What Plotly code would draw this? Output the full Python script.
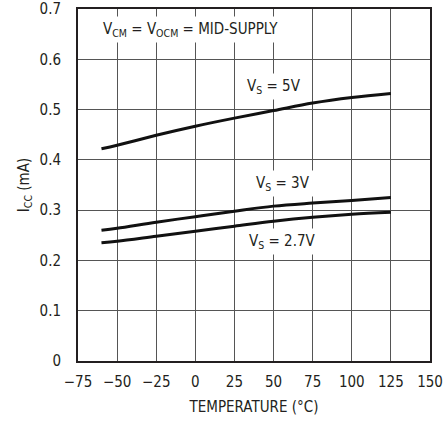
import plotly.graph_objects as go

temps = [-60, -50, -25, 0, 25, 50, 75, 100, 125]
icc_5v = [0.422, 0.429, 0.449, 0.467, 0.483, 0.498, 0.513, 0.524, 0.532]
icc_3v = [0.260, 0.264, 0.276, 0.287, 0.298, 0.308, 0.314, 0.319, 0.325]
icc_27v = [0.235, 0.238, 0.248, 0.258, 0.268, 0.278, 0.286, 0.292, 0.296]

x_ticks = [-75, -50, -25, 0, 25, 50, 75, 100, 125, 150]
x_ticktext = ["\u221275", "\u221250", "\u221225", "0", "25", "50", "75", "100", "125", "150"]
y_ticks = [0, 0.1, 0.2, 0.3, 0.4, 0.5, 0.6, 0.7]
y_ticktext = ["0", "0.1", "0.2", "0.3", "0.4", "0.5", "0.6", "0.7"]

FONT = "DejaVu Sans Condensed, Liberation Sans Narrow, sans-serif"
TXT = "#231f20"

fig = go.Figure()
for ys in (icc_5v, icc_3v, icc_27v):
    fig.add_trace(go.Scatter(x=temps, y=ys, mode="lines",
                             line=dict(color="#111111", width=3, shape="spline"),
                             showlegend=False, hoverinfo="skip"))

labels = [
    (-3.4, 0.659, "V<sub>CM</sub> = V<sub>OCM</sub> = MID-SUPPLY"),
    (50.3, 0.546, "V<sub>S</sub> = 5V"),
    (56, 0.353, "V<sub>S</sub> = 3V"),
    (56, 0.238, "V<sub>S</sub> = 2.7V"),
]
for x, y, t in labels:
    fig.add_annotation(x=x, y=y, text=t, showarrow=False, xanchor="center", yanchor="middle",
                       bgcolor="white", borderpad=3,
                       font=dict(family=FONT, size=15, color=TXT))

fig.update_xaxes(range=[-75, 150], tickvals=x_ticks, ticktext=x_ticktext,
                 showgrid=True, gridcolor="#555555", gridwidth=1,
                 showline=True, linecolor=TXT, linewidth=2, mirror=True,
                 ticks="", ticklabelstandoff=6, zeroline=False, automargin=False,
                 ticklabeloverflow="allow",
                 tickfont=dict(family=FONT, size=15, color=TXT),
                 title=dict(text="TEMPERATURE (\u00b0C)", standoff=11,
                            font=dict(family=FONT, size=15, color=TXT)))
fig.update_yaxes(range=[0, 0.7], tickvals=y_ticks, ticktext=y_ticktext,
                 showgrid=True, gridcolor="#555555", gridwidth=1,
                 showline=True, linecolor=TXT, linewidth=2, mirror=True,
                 ticks="", ticklabelstandoff=12, zeroline=False, automargin=False,
                 ticklabeloverflow="allow",
                 tickfont=dict(family=FONT, size=15, color=TXT),
                 title=dict(text="I<sub>CC</sub> (mA)", standoff=6,
                            font=dict(family=FONT, size=15, color=TXT)))

fig.update_layout(width=444, height=421, margin=dict(l=78, r=14, t=9, b=60),
                  plot_bgcolor="white", paper_bgcolor="white")

fig.write_html("out.html", config={"displayModeBar": False},
               post_script="document.body.style.margin='0';document.body.style.padding='0';"
                           "document.body.style.overflow='hidden';")
